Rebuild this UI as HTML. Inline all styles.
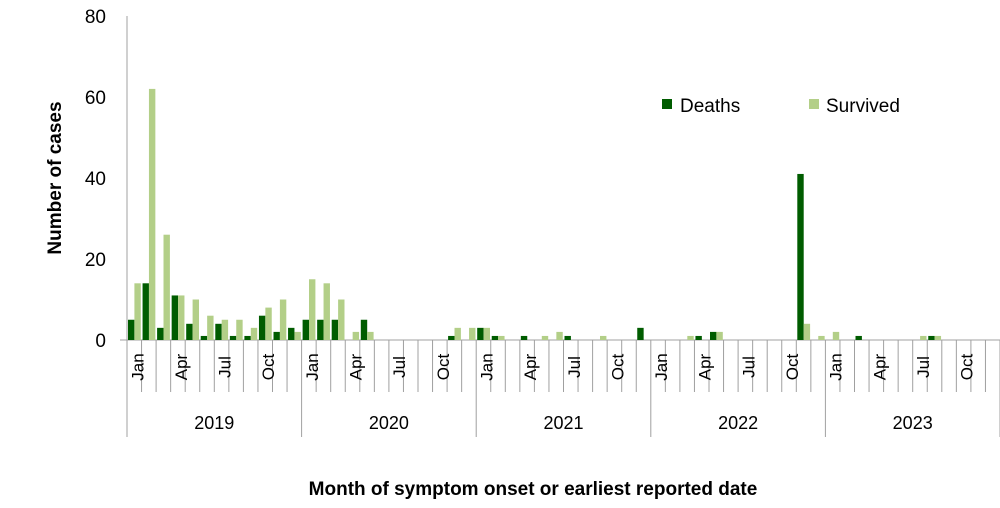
<!DOCTYPE html>
<html><head><meta charset="utf-8"><style>
html,body{margin:0;padding:0;background:#fff;}
svg{display:block;font-family:"Liberation Sans",Calibri,sans-serif;}
</style></head><body>
<svg id="c" width="1000" height="508" xmlns="http://www.w3.org/2000/svg">
<g font-size="19" fill="#000" text-anchor="end">
<text x="106" y="347">0</text>
<text x="106" y="266">20</text>
<text x="106" y="185">40</text>
<text x="106" y="104">60</text>
<text x="106" y="23">80</text>
</g>
<line x1="127" y1="16" x2="127" y2="340" stroke="#a0a0a0" stroke-width="1"/>
<line x1="120" y1="340" x2="1000" y2="340" stroke="#a0a0a0" stroke-width="1"/>
<g id="bars"></g>
<g id="axis" stroke="#a0a0a0" stroke-width="1"></g>
<g id="lbl" font-size="17" fill="#000"></g>
<rect x="662" y="99" width="10" height="10" fill="#005c00"/>
<text x="680" y="112" font-size="19">Deaths</text>
<rect x="809" y="99" width="10" height="10" fill="#b3cf88"/>
<text x="826" y="112" font-size="19">Survived</text>
<text transform="translate(61,178) rotate(-90)" text-anchor="middle" font-size="19" font-weight="bold">Number of cases</text>
<text x="533" y="495" text-anchor="middle" font-size="19" font-weight="bold">Month of symptom onset or earliest reported date</text>
</svg>
<script>
var D=[5,14,3,11,4,1,4,1,1,6,2,3, 5,5,5,0,5,0,0,0,0,0,1,0, 3,1,0,1,0,0,1,0,0,0,0,3, 0,0,0,1,2,0,0,0,0,0,41,0, 0,0,1,0,0,0,0,1,0,0,0,0];
var S=[14,62,26,11,10,6,5,5,3,8,10,2, 15,14,10,2,2,0,0,0,0,0,3,3, 3,1,0,0,1,2,0,0,1,0,0,0, 0,0,1,0,2,0,0,0,0,0,4,1, 2,0,0,0,0,0,1,1,0,0,0,0];
var ns="http://www.w3.org/2000/svg";
function el(p,t,a,txt){var e=document.createElementNS(ns,t);for(var k in a)e.setAttribute(k,a[k]);if(txt)e.textContent=txt;p.appendChild(e);return e;}
var x0=127,w=873/60,base=340,k=4.05;
var bars=document.getElementById('bars'),ax=document.getElementById('axis'),lb=document.getElementById('lbl');
for(var i=0;i<60;i++){
 var x=x0+i*w;
 if(D[i])el(bars,'rect',{x:x+1,y:base-D[i]*k,width:6.4,height:D[i]*k,fill:'#005c00'});
 if(S[i])el(bars,'rect',{x:x+7.4,y:base-S[i]*k,width:6.4,height:S[i]*k,fill:'#b3cf88'});
 var yr=(i%12==0);
 el(ax,'line',{x1:x,y1:340,x2:x,y2:yr?437:392});
 if(i%3==0){var cx=x+w/2+9,nm=['Jan','Apr','Jul','Oct'][(i%12)/3];
  el(lb,'text',{transform:'translate('+cx+',367) rotate(-90)','text-anchor':'middle'},nm);}
}
el(ax,'line',{x1:1000,y1:340,x2:1000,y2:437});
var ys=['2019','2020','2021','2022','2023'];
for(var j=0;j<5;j++)el(lb,'text',{x:x0+(j+0.5)*12*w,y:429,'text-anchor':'middle','font-size':'18'},ys[j]);
</script>
</body></html>
